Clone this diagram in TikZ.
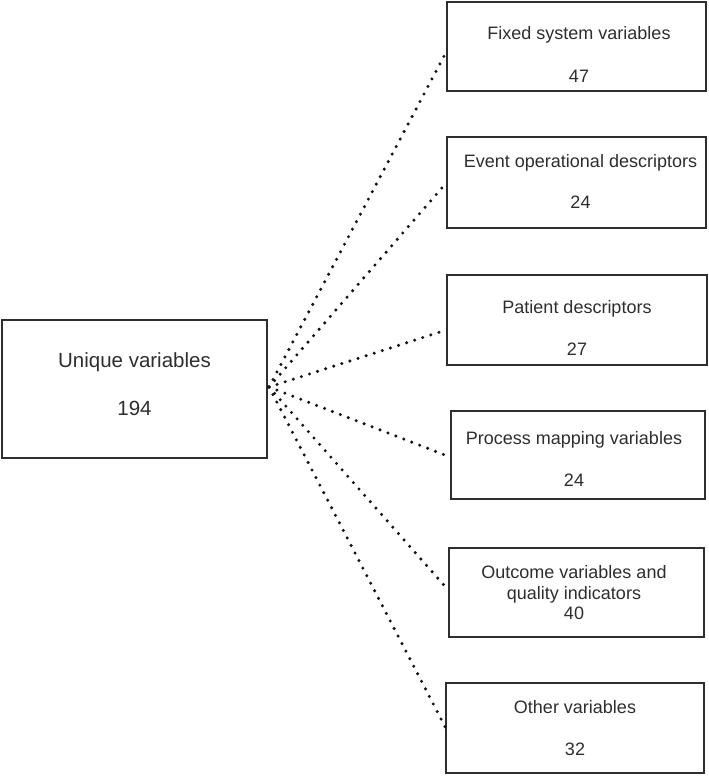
\documentclass[tikz,border=0pt]{standalone}
\usepackage{fontspec}
\setmainfont{Liberation Sans}
\definecolor{ink}{HTML}{2E2E2E}
\definecolor{dotc}{HTML}{151515}
\begin{document}
\begin{tikzpicture}[x=1pt,y=-1pt,
  vbox/.style={draw=ink, line width=1.6pt, inner sep=0pt, fill=white},
  lbl/.style={anchor=base, inner sep=0pt, text=ink, font=\fontsize{18}{22}\selectfont},
  biglbl/.style={anchor=base, inner sep=0pt, text=ink, font=\fontsize{20.5}{24}\selectfont},
  dotline/.style={dotc, line width=3.4pt, line cap=round, dash pattern=on 0pt off 8.5pt}]
\useasboundingbox (0,0) rectangle (709,776);

% boxes
\node[vbox, minimum width=265pt, minimum height=138pt] (L)  at (134.5,389) {};
\node[vbox, minimum width=259pt, minimum height=89pt]  (B1) at (576.5,46.5) {};
\node[vbox, minimum width=259pt, minimum height=91pt]  (B2) at (576.5,182.5) {};
\node[vbox, minimum width=260pt, minimum height=90pt]  (B3) at (577,320) {};
\node[vbox, minimum width=254pt, minimum height=88pt]  (B4) at (578,455) {};
\node[vbox, minimum width=255pt, minimum height=89pt]  (B5) at (576.5,592.5) {};
\node[vbox, minimum width=258pt, minimum height=90pt]  (B6) at (575,728) {};

% texts
\node[biglbl] (tL1) at (134.5,367) {Unique variables};
\node[biglbl] (tL2) at (134.5,415) {194};
\node[lbl] (t11) at (579,40) {Fixed system variables};
\node[lbl] (t12) at (579,82) {47};
\node[lbl] (t21) at (580.5,167) {Event operational descriptors};
\node[lbl] (t22) at (580.5,208) {24};
\node[lbl] (t31) at (577,313) {Patient descriptors};
\node[lbl] (t32) at (577,355) {27};
\node[lbl] (t41) at (574,444) {Process mapping variables};
\node[lbl] (t42) at (574,486) {24};
\node[lbl] (t51) at (574,578) {Outcome variables and};
\node[lbl] (t52) at (574,599) {quality indicators};
\node[lbl] (t53) at (574,619) {40};
\node[lbl] (t61) at (575,713) {Other variables};
\node[lbl] (t62) at (575,755) {32};

% connector ends
\coordinate (hub) at (269,387);
\coordinate (e1) at (B1.west |- 0,52);
\coordinate (e2) at (B2.west |- 0,183);
\coordinate (e3) at (B3.west |- 0,330);
\coordinate (e4) at (B4.west |- 0,457);
\coordinate (e5) at (B5.west |- 0,590);
\coordinate (e6) at (B6.west |- 0,727);

\foreach \e in {e1,e2,e3,e4,e5,e6}
  \draw[dotline] (hub) -- (\e);
\end{tikzpicture}
\end{document}
